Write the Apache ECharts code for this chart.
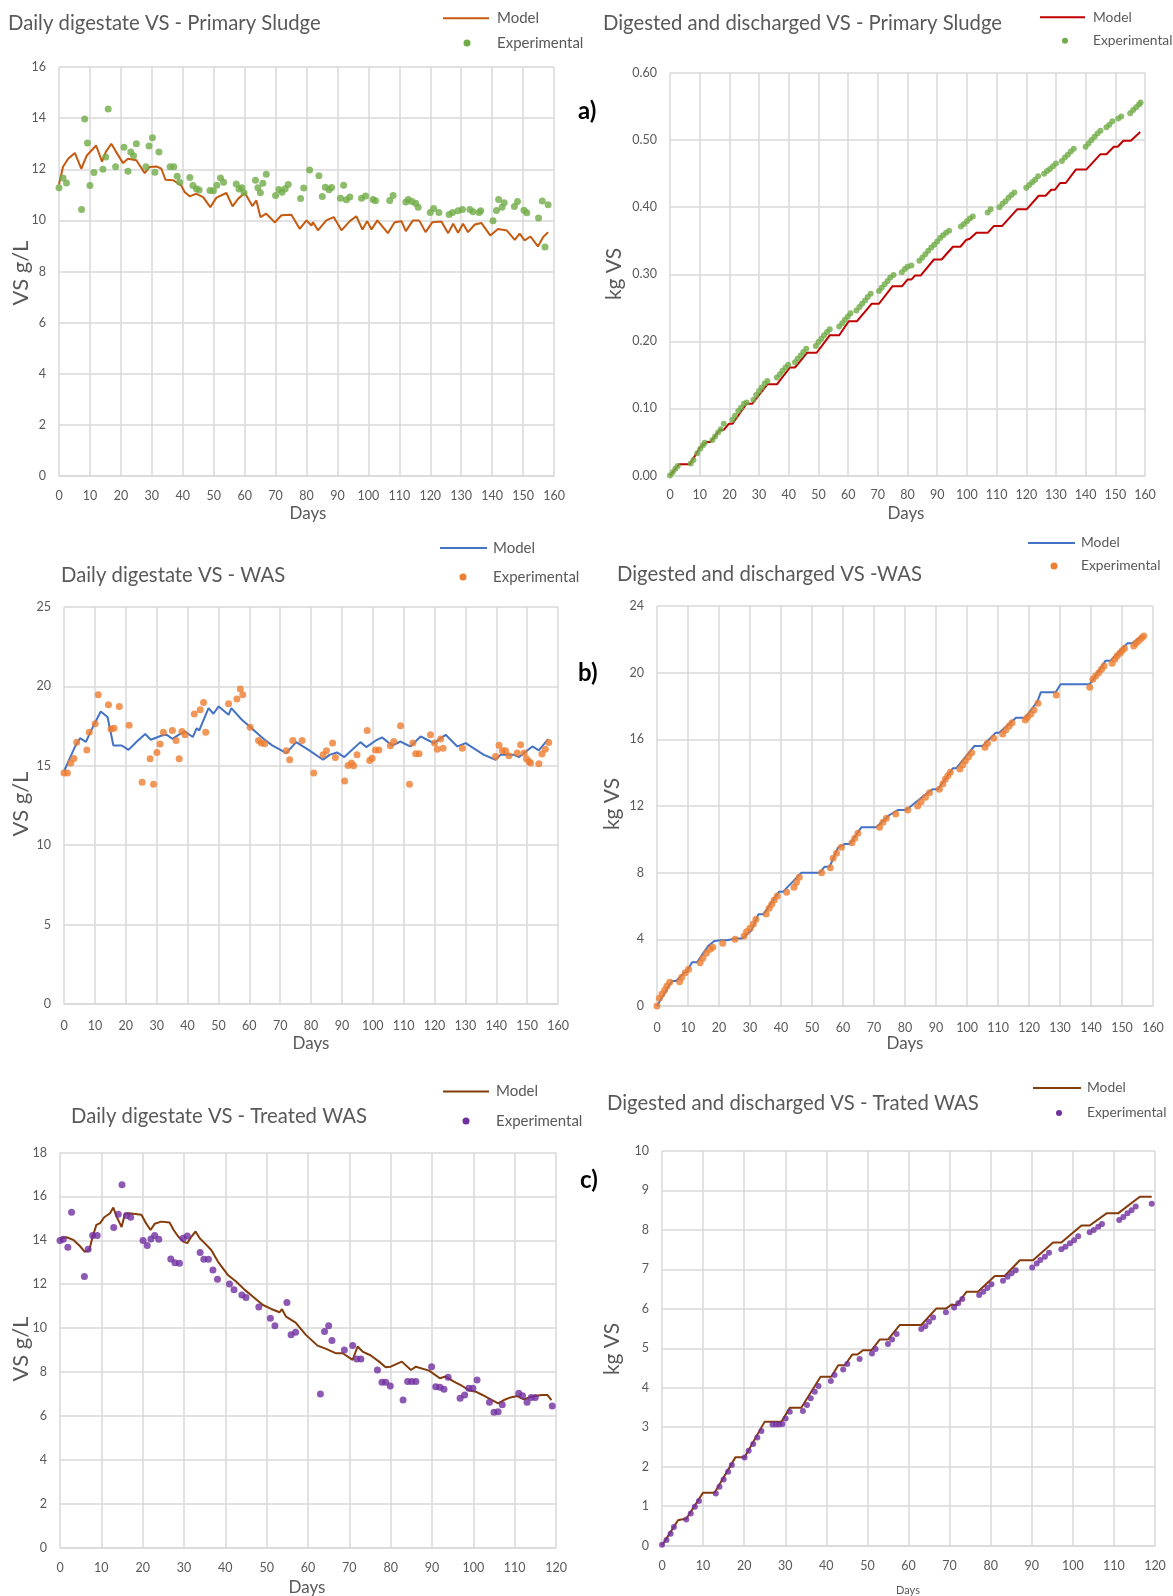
<!DOCTYPE html>
<html><head><meta charset="utf-8">
<script src="https://cdn.jsdelivr.net/npm/echarts/dist/echarts.min.js"></script>
<style>html,body{margin:0;padding:0;background:#fff}#c{width:1173px;height:1596px}</style>
</head><body><div id="c"></div><script>
// ---------- DATA ----------
// (a) Primary sludge, daily digestate VS (g/L)
const psDailyModel = [[0,11.4],[1.3,12.1],[2.9,12.4],[5.1,12.64],[7.2,12.02],[9,12.54],[12,12.93],[13.9,12.3],[15.1,12.67],[16.9,13.0],[18.3,12.71],[20.7,12.24],[22.3,12.41],[25,12.35],[27.7,11.85],[29.3,12.09],[31.5,12.11],[33.1,12.02],[34.4,11.59],[36.9,11.57],[39.5,11.37],[40.6,11.11],[42.2,10.94],[44.4,11.04],[46.6,10.91],[48.9,10.52],[50.9,10.89],[54.1,11.07],[56.1,10.55],[58,10.86],[60.1,11.07],[62.5,10.56],[63.8,10.78],[65.1,10.13],[67,10.26],[69.8,9.92],[71.9,10.2],[75.1,10.22],[77.8,9.67],[80,10.0],[81.6,9.8],[82.1,9.93],[83.7,9.61],[86.4,10.0],[88.8,10.13],[91.3,9.61],[94,9.97],[96.1,10.16],[98.1,9.64],[99.6,9.97],[101,9.64],[102.9,10.0],[106.3,9.5],[108.5,9.93],[110.7,9.97],[112.1,9.58],[114.4,10.0],[116.4,10.0],[118.5,9.54],[120.7,9.93],[123.6,9.96],[125.8,9.5],[127.4,9.87],[129,9.52],[130.6,9.87],[132.2,9.54],[134.4,9.84],[136.5,9.9],[139.4,9.41],[141.9,9.66],[144.8,9.6],[147.3,9.24],[148.9,9.48],[150.5,9.22],[152.4,9.37],[154.8,8.98],[156.5,9.35],[158.1,9.54]];
const psDailyExp = [[0,11.28],[1.3,11.66],[2.4,11.46],[7.3,10.43],[8.3,13.97],[9.2,13.03],[10,11.36],[11.3,11.87],[14.2,12.0],[15.1,12.48],[15.9,14.36],[18.3,12.1],[21,12.86],[22.3,11.92],[23.2,12.67],[24.1,12.53],[25,13.0],[28.1,12.1],[29.1,12.91],[30.2,13.23],[31,11.88],[32.3,12.67],[35.9,12.1],[37.1,12.1],[38.2,11.73],[39,11.49],[42.3,11.68],[43.3,11.36],[44.4,11.24],[45.3,11.19],[48.8,11.17],[49.9,11.16],[51,11.37],[52.2,11.66],[53.2,11.49],[57.3,11.42],[58.2,11.23],[59.1,11.28],[59.8,11.08],[63.5,11.57],[64.3,11.28],[65.1,11.08],[65.9,11.45],[67,11.8],[70,10.97],[71.1,11.21],[72.1,11.1],[73.1,11.24],[74.1,11.4],[78.1,10.86],[79.1,11.27],[81,11.97],[84,11.75],[85.1,10.93],[86.1,11.3],[87.3,11.2],[88.1,11.29],[91,10.87],[92,11.37],[92.9,10.81],[94,10.91],[97.8,10.87],[99.1,10.95],[101.5,10.82],[102.3,10.77],[106.9,10.78],[108,10.97],[112.1,10.72],[112.9,10.82],[114.1,10.74],[115.3,10.67],[116.1,10.51],[120,10.31],[121.1,10.46],[122.8,10.31],[126.1,10.23],[127.2,10.31],[129,10.38],[130.4,10.43],[132.8,10.43],[133.8,10.34],[135.8,10.31],[136.3,10.38],[140.3,9.99],[141.4,10.39],[142.1,10.82],[143.2,10.51],[143.9,10.69],[147.2,10.54],[148.2,10.74],[150.3,10.40],[151.2,10.30],[155,10.09],[156.2,10.76],[157.1,8.96],[158.1,10.61]];
// (a) Primary sludge, digested and discharged VS (kg)
const psCumModel = [[0,0],[3.1,0.0166],[6.6,0.0166],[10.2,0.042],[12.4,0.050],[13.6,0.050],[16.8,0.068],[18.1,0.068],[19.8,0.077],[21,0.077],[25.8,0.107],[27.7,0.107],[32.8,0.136],[36,0.136],[40.4,0.161],[42.1,0.161],[46.2,0.183],[49.4,0.183],[53.8,0.209],[57,0.209],[60.2,0.230],[63,0.230],[67.9,0.256],[70.4,0.256],[74.9,0.282],[78.1,0.282],[80,0.292],[81.3,0.292],[82.5,0.298],[84.4,0.298],[88.9,0.322],[91.5,0.322],[95.3,0.341],[97.8,0.341],[99.7,0.351],[101,0.353],[103.2,0.362],[107.1,0.362],[109.1,0.372],[111.9,0.372],[117,0.397],[120.2,0.397],[124.2,0.417],[126.5,0.417],[128.4,0.426],[129.7,0.426],[131.4,0.436],[133.3,0.436],[136.7,0.456],[140.2,0.456],[145,0.479],[147,0.479],[149.5,0.490],[150.8,0.490],[152.7,0.499],[155.2,0.499],[158.4,0.512]];
const psCumExp = [[0,0],[0.9,0.005],[1.8,0.010],[2.6,0.014],[7,0.018],[7.9,0.023],[9.2,0.033],[10.2,0.040],[11.1,0.045],[11.7,0.049],[14.3,0.053],[15.2,0.058],[16.2,0.064],[17.1,0.069],[18.1,0.077],[21,0.083],[21.9,0.089],[23,0.096],[23.9,0.101],[24.9,0.107],[25.8,0.109],[28.1,0.113],[29,0.120],[30,0.126],[30.9,0.131],[31.9,0.137],[32.8,0.141],[36,0.146],[37,0.151],[37.9,0.156],[38.9,0.161],[39.8,0.165],[42.1,0.169],[43,0.174],[44,0.179],[44.9,0.184],[45.9,0.189],[49.1,0.193],[50,0.199],[51,0.204],[51.9,0.209],[52.9,0.214],[53.8,0.218],[57,0.222],[58,0.227],[58.9,0.232],[59.9,0.237],[60.8,0.242],[62.8,0.246],[63.8,0.251],[64.7,0.256],[65.7,0.261],[66.6,0.266],[67.6,0.271],[70.4,0.275],[71.3,0.280],[72.3,0.285],[73.3,0.290],[74.2,0.295],[75.3,0.299],[78.1,0.303],[79.1,0.308],[80,0.311],[81.3,0.313],[84,0.320],[85,0.325],[86,0.330],[87,0.335],[88,0.340],[89,0.344],[90,0.349],[91,0.354],[92,0.358],[93,0.362],[94,0.365],[98,0.371],[99,0.375],[100,0.379],[101,0.383],[102,0.386],[107,0.392],[108,0.397],[111,0.400],[112,0.405],[113,0.409],[114,0.414],[115,0.418],[116,0.422],[120,0.429],[121,0.433],[122,0.437],[123,0.441],[124,0.446],[126,0.450],[127,0.454],[128,0.457],[129,0.461],[130,0.465],[132,0.469],[133,0.474],[134,0.478],[135,0.483],[136,0.487],[140,0.490],[141,0.495],[142,0.500],[143,0.505],[144,0.510],[145,0.514],[147,0.519],[148,0.523],[149,0.528],[151,0.532],[152,0.535],[155,0.540],[156,0.545],[157,0.549],[158,0.553],[158.5,0.556]];
// (b) WAS, daily digestate VS (g/L)
const wasDailyModel = [[0,14.64],[1.9,15.48],[3.6,16.22],[5.2,16.74],[7.1,16.51],[9,17.31],[11.9,18.42],[14.1,18.07],[16,16.28],[18.7,16.28],[20.9,16.0],[23.6,16.53],[26.3,17.0],[28.1,16.64],[31.7,16.91],[33.3,16.95],[35.1,16.7],[37.1,16.95],[39.2,17.16],[41.7,16.81],[43,17.37],[43.8,17.23],[46.8,18.63],[48.4,18.28],[50.1,18.74],[53.3,18.21],[54.2,18.63],[57.6,17.9],[60.3,17.44],[64.6,16.7],[67.3,16.3],[72,15.8],[75.2,16.49],[79.2,16.0],[83.9,15.38],[86,15.69],[88.4,15.84],[90.8,15.55],[96,16.49],[97.9,16.18],[100.9,16.58],[103,16.79],[106.3,16.28],[109,16.53],[110.3,16.39],[112.2,16.22],[115.5,16.85],[117.6,16.64],[119.8,16.43],[123.6,16.95],[127.4,16.22],[130.1,16.43],[136,15.69],[139.8,15.38],[141.4,15.69],[145.7,15.69],[147.4,15.55],[151.7,16.22],[153.8,15.97],[156.8,16.68]];
const wasDailyExp = [[0,14.54],[1.1,14.54],[2.2,15.17],[3.2,15.46],[4.1,16.49],[7.4,16.0],[8.2,17.12],[10.1,17.65],[11.1,19.47],[14.4,18.84],[15.2,17.31],[16.2,17.37],[17.9,18.74],[21.1,17.56],[25.3,13.97],[27.9,15.44],[29,13.84],[30.1,15.84],[31.1,16.37],[32.2,17.12],[35.1,17.23],[36.3,16.6],[37.3,15.44],[38.2,17.16],[39.2,16.95],[42.2,18.26],[44.1,18.53],[45.2,18.99],[45.9,17.12],[53.3,18.91],[56,19.2],[57.1,19.83],[57.9,19.47],[60.3,17.42],[63,16.6],[63.9,16.43],[65,16.39],[72,15.95],[73.1,15.38],[74.1,16.6],[77.1,16.6],[80.9,14.54],[83.9,15.69],[85,15.95],[87,16.43],[87.9,15.53],[90.9,14.05],[92,15.02],[93.1,15.17],[93.8,15.0],[94.9,15.69],[98.2,17.23],[99,15.34],[99.8,15.48],[100.9,16.0],[102,16.0],[105.7,16.26],[106.8,16.53],[109,17.52],[111.9,13.84],[113,16.43],[113.9,15.76],[115,15.76],[118.7,16.95],[120,16.43],[120.9,16.05],[122,16.68],[122.8,16.11],[129,16.11],[139.8,15.59],[140.9,16.3],[142,15.95],[143,15.95],[144.1,15.63],[146.8,15.8],[147.9,16.32],[149,15.8],[149.8,15.44],[150.6,15.27],[151.1,15.17],[153.8,15.13],[154.8,15.74],[155.9,16.05],[157,16.47]];
// (b) WAS, digested and discharged VS (kg)
const wasCumModel = [[0,0],[4.8,1.5],[6.2,1.5],[8.8,2.0],[9.6,2.05],[11.3,2.62],[12.9,2.62],[16.6,3.62],[18.5,3.9],[20.5,3.95],[22.5,3.95],[25.5,4.05],[27.5,4.05],[30.5,4.55],[32.7,5.5],[34.3,5.5],[39.4,6.86],[40.7,6.86],[46.6,8.0],[52.5,8.0],[54.1,8.36],[55.7,8.36],[58.4,9.5],[60.6,9.72],[62.2,9.72],[65.9,10.72],[70.7,10.72],[75,11.46],[77.7,11.76],[80.4,11.76],[85.7,12.56],[88.9,13.0],[90.6,13.0],[95.4,14.26],[96.5,14.26],[102.4,15.6],[105,15.6],[109.3,16.4],[110.4,16.4],[115.8,17.3],[118.8,17.3],[122.7,18.26],[123.8,18.82],[128.6,18.82],[130.2,19.3],[139.5,19.3],[140.9,19.66],[144.7,20.72],[146.3,20.72],[151.7,21.76],[153.3,21.76],[156.7,22.26]];
const wasCumExp = [[0,0],[0.75,0.46],[1.6,0.72],[2.5,0.96],[3.2,1.2],[4.1,1.42],[7.3,1.46],[8,1.72],[9.1,2.0],[10.2,2.2],[13.9,2.6],[14.8,2.86],[15.9,3.16],[17.1,3.4],[18,3.52],[21.2,3.76],[25.2,4.0],[28.1,4.2],[28.9,4.46],[30,4.66],[31.1,4.92],[31.9,5.2],[35.2,5.52],[36.2,5.86],[37,6.1],[37.8,6.36],[38.8,6.6],[41.8,6.82],[44.2,7.12],[45,7.42],[45.9,7.72],[53.1,8.0],[55.9,8.3],[56.8,8.86],[57.9,9.16],[59.5,9.52],[62.9,9.8],[63.8,10.06],[64.8,10.36],[71.8,10.72],[72.9,11.02],[74,11.26],[77,11.52],[80.9,11.76],[84.1,12.0],[85.2,12.26],[86.6,12.52],[87.9,12.8],[91.1,13.0],[92.2,13.32],[93,13.6],[93.8,13.82],[94.6,14.02],[97.7,14.22],[98.6,14.46],[99.5,14.72],[100.5,14.96],[101.5,15.2],[105.8,15.52],[106.6,15.76],[108.6,16.06],[111.5,16.32],[112.5,16.56],[113.6,16.8],[114.5,17.0],[118.8,17.16],[119.5,17.32],[120.6,17.52],[121.6,17.76],[122.9,18.16],[128.8,18.66],[139.6,19.12],[140.6,19.6],[141.5,19.8],[142.5,20.0],[143.4,20.2],[144.2,20.4],[146.8,20.56],[147.7,20.8],[148.4,21.0],[149.3,21.16],[150,21.32],[150.8,21.46],[153.8,21.6],[154.5,21.76],[155.4,21.92],[156.3,22.06],[157,22.2]];
// (c) Treated WAS, daily digestate VS (g/L)
const twasDailyModel = [[0,14.09],[1.6,14.14],[3.2,14.02],[4.8,13.74],[6,13.47],[7.1,13.56],[7.9,14.17],[8.8,14.7],[9.7,14.78],[10.7,15.05],[12.1,15.23],[12.9,15.49],[13.7,15.08],[14.9,14.6],[15.7,15.2],[16.7,15.23],[19.7,15.16],[20.8,14.78],[21.9,14.47],[22.9,14.75],[24.5,14.85],[26.5,14.81],[27.5,14.47],[28.6,14.17],[29.8,13.94],[30.8,13.87],[31.8,14.17],[32.8,14.4],[33.8,14.09],[35,13.87],[36.6,13.56],[38.2,13.03],[40.6,12.42],[42.6,12.12],[44.7,11.74],[46.7,11.43],[49.1,11.05],[51.1,10.87],[53.1,10.72],[53.7,10.86],[54.7,10.52],[57,10.25],[59.5,9.69],[62.3,9.2],[64.4,9.05],[66.8,8.85],[68.4,8.85],[70.8,8.55],[72,9.16],[73.2,8.93],[75.2,8.75],[77.2,8.47],[78.8,8.21],[80,8.24],[82.7,8.47],[84.9,8.09],[86.1,8.24],[89.3,8.06],[91.9,7.71],[93.3,7.79],[95.3,7.56],[97.3,7.36],[99.1,7.15],[100.6,7.1],[102.2,6.95],[104.2,6.75],[106,6.57],[107.4,6.72],[109,6.84],[110.6,6.9],[112.2,6.75],[114.2,6.88],[116.5,6.95],[117.9,6.95],[118.9,6.72]];
const twasDailyExp = [[0,13.99],[0.8,14.05],[1.9,13.68],[2.8,15.28],[5.9,12.35],[6.8,13.59],[7.9,14.22],[9,14.22],[13,14.58],[14.1,15.19],[15,16.53],[16.1,15.13],[17.1,15.05],[20.1,13.99],[21.1,13.76],[22,14.06],[22.9,14.22],[23.9,14.05],[26.8,13.15],[27.8,12.98],[28.9,12.95],[29.8,14.09],[30.8,14.2],[33.9,13.44],[34.8,13.14],[35.9,13.14],[37,12.65],[38.1,12.22],[41,12.01],[42.1,11.74],[44,11.51],[45,11.39],[48.1,10.96],[50.9,10.45],[52,10.1],[54.9,11.16],[55.9,9.69],[57,9.81],[63,7.0],[64,9.84],[65,10.11],[65.8,9.43],[68.8,9.0],[70.8,9.2],[71.8,8.59],[72.8,8.59],[76.8,8.09],[77.9,7.53],[78.8,7.53],[79.9,7.36],[83,6.72],[84.1,7.56],[85.1,7.56],[86.1,7.56],[89.9,8.24],[90.9,7.33],[91.9,7.3],[92.9,7.21],[93.9,7.76],[96.8,6.8],[97.9,6.95],[98.9,7.26],[99.9,7.26],[100.9,7.63],[103.9,6.62],[105,6.16],[106,6.19],[107,6.5],[111,7.03],[111.9,6.91],[113,6.62],[114,6.84],[115,6.84],[119.1,6.45]];
// (c) Treated WAS, digested and discharged VS (kg)
const twasCumModel = [[0,0],[1.1,0.18],[3.9,0.64],[4.7,0.66],[5.9,0.68],[10,1.34],[12.8,1.34],[17.9,2.24],[20.1,2.24],[25,3.14],[29.1,3.14],[31.1,3.49],[33.9,3.49],[38.6,4.28],[41.2,4.28],[42.9,4.57],[44.5,4.57],[46.3,4.84],[47.6,4.84],[48.9,4.95],[51,4.95],[53,5.22],[55,5.22],[57.9,5.59],[63.1,5.59],[66.8,6.01],[69.2,6.01],[70.5,6.11],[71.7,6.09],[74.1,6.43],[76.9,6.43],[81,6.83],[83.4,6.83],[87.1,7.23],[90.3,7.23],[95.2,7.68],[97.2,7.68],[102.1,8.11],[104.1,8.11],[108.2,8.42],[111,8.42],[116.3,8.84],[119.2,8.84]];
const twasCumExp = [[0,0.02],[1.1,0.14],[2.1,0.3],[2.9,0.47],[5.9,0.66],[7,0.81],[8,0.98],[9,1.13],[13.1,1.32],[14,1.49],[15,1.67],[16.1,1.87],[17,2.04],[20.1,2.23],[21.1,2.4],[22.2,2.57],[23.2,2.74],[24.2,2.9],[26.9,3.07],[27.7,3.07],[28.5,3.07],[29.3,3.08],[30.1,3.22],[31.1,3.39],[34.3,3.41],[35.3,3.56],[36.2,3.73],[37.2,3.9],[38.1,4.04],[41.1,4.17],[42,4.32],[44.1,4.46],[45.1,4.6],[48.1,4.73],[51.1,4.87],[52,4.98],[55,5.11],[56,5.22],[57.1,5.36],[63.1,5.49],[64.1,5.56],[65,5.67],[66,5.78],[69.1,5.91],[71.1,6.03],[72.1,6.14],[73.1,6.25],[77.2,6.35],[78.2,6.43],[79.2,6.53],[80.2,6.62],[83,6.71],[84.1,6.81],[85.1,6.9],[86.1,6.98],[90.1,7.05],[91.2,7.15],[92.1,7.24],[93.2,7.32],[94.2,7.42],[97.2,7.51],[98.2,7.57],[99.3,7.66],[100.3,7.74],[101.3,7.84],[104.1,7.94],[105.1,8.0],[106.2,8.08],[107.1,8.15],[111.3,8.25],[112.3,8.33],[113.3,8.42],[114.3,8.5],[115.3,8.59],[119.2,8.66]];

// ---------- LAYOUT / STYLE ----------
const FONT = 'Lato, "Open Sans", sans-serif';
const GREY = '#595959';
const GRIDC = '#d9d9d9';
const panels = [
  {grid:{left:59,top:67,width:495,height:409}, xmax:160, ymax:16, yint:2, dec:0, model:psDailyModel, exp:psDailyExp, mc:'#C55A11', ec:'#70AD47', es:7, lm:13},
  {grid:{left:670,top:73,width:475,height:402.5}, xmax:160, ymax:0.6, yint:0.1, dec:2, model:psCumModel, exp:psCumExp, mc:'#C00000', ec:'#70AD47', es:6, lm:13},
  {grid:{left:64,top:607,width:494,height:397}, xmax:160, ymax:25, yint:5, dec:0, model:wasDailyModel, exp:wasDailyExp, mc:'#4472C4', ec:'#ED7D31', es:7, lm:15},
  {grid:{left:657,top:606,width:496,height:400}, xmax:160, ymax:24, yint:4, dec:0, model:wasCumModel, exp:wasCumExp, mc:'#4472C4', ec:'#ED7D31', es:7, lm:15},
  {grid:{left:60,top:1152.5,width:496,height:395}, xmax:120, ymax:18, yint:2, dec:0, model:twasDailyModel, exp:twasDailyExp, mc:'#843C0C', ec:'#7030A0', es:7, lm:14},
  {grid:{left:662,top:1151,width:493,height:394.5}, xmax:120, ymax:10, yint:1, dec:0, model:twasCumModel, exp:twasCumExp, mc:'#843C0C', ec:'#7030A0', es:6, lm:14}
];

const grids=[], xAxes=[], yAxes=[], series=[];
panels.forEach((p,i)=>{
  grids.push(Object.assign({containLabel:false, show:false}, p.grid));
  xAxes.push({type:'value', gridIndex:i, min:0, max:p.xmax, interval:10,
    axisLine:{show:true, lineStyle:{color:GRIDC, width:1.5}}, axisTick:{show:false},
    splitLine:{show:true, lineStyle:{color:GRIDC, width:1.5}},
    axisLabel:{color:GREY, fontSize:12.5, fontFamily:FONT, margin:p.lm, showMaxLabel:true, showMinLabel:true}});
  yAxes.push({type:'value', gridIndex:i, min:0, max:p.ymax, interval:p.yint,
    axisLine:{show:false}, axisTick:{show:false},
    splitLine:{show:true, lineStyle:{color:GRIDC, width:1.5}},
    axisLabel:{color:GREY, fontSize:12.5, fontFamily:FONT, margin:13, formatter:v=>v.toFixed(p.dec)}});
  series.push({type:'line', name:'Model', xAxisIndex:i, yAxisIndex:i, data:p.model, showSymbol:false, symbol:'none',
    lineStyle:{color:p.mc, width:2}, z:2, animation:false});
  series.push({type:'scatter', name:'Experimental', xAxisIndex:i, yAxisIndex:i, data:p.exp, symbolSize:p.es,
    itemStyle:{color:p.ec}, z:3, animation:false});
});

function txt(x,y,text,o){
  o=o||{};
  return {type:'text', x:x, y:y, rotation:o.rot||0, silent:true, z:10,
    style:{text:text, fill:o.color||GREY, font:(o.weight||'normal')+' '+(o.size||15)+'px '+FONT,
      textAlign:o.align||'left', textVerticalAlign:'middle', align:o.align||'left', verticalAlign:'middle'}};
}
function legend(lx1,lx2,ly,tx,dx,dy,mc,ec,es,fs){
  return [
    {type:'line', silent:true, z:10, shape:{x1:lx1,y1:ly,x2:lx2,y2:ly}, style:{stroke:mc, lineWidth:2}},
    txt(tx,ly,'Model',{size:fs}),
    {type:'circle', silent:true, z:10, shape:{cx:dx,cy:dy,r:es/2}, style:{fill:ec}},
    txt(tx,dy,'Experimental',{size:fs})
  ];
}
const T = 20.3, R = Math.PI/2;
const graphics = [
  txt(8,23,'Daily digestate VS - Primary Sludge',{size:T}),
  txt(603,23,'Digested and discharged VS - Primary Sludge',{size:T}),
  txt(61,575,'Daily digestate VS - WAS',{size:T}),
  txt(617,574,'Digested and discharged VS -WAS',{size:T}),
  txt(71,1116,'Daily digestate VS - Treated WAS',{size:T}),
  txt(607,1103,'Digested and discharged VS - Trated WAS',{size:T}),
  ...legend(443,489,18.3,497,467,43,'#C55A11','#70AD47',7,15),
  ...legend(1040,1085,17.3,1093,1065,40.7,'#C00000','#70AD47',6,13.8),
  ...legend(440,487,548,493,463,577,'#4472C4','#ED7D31',7,15),
  ...legend(1028,1075,543,1081,1054,566,'#4472C4','#ED7D31',7,13.8),
  ...legend(443,489,1091.5,496,466,1121,'#843C0C','#7030A0',7,15),
  ...legend(1033,1081,1088,1087,1059,1113,'#843C0C','#7030A0',6,13.8),
  txt(578,111,'a)',{size:24,weight:'bold',color:'#000'}),
  txt(578,673,'b)',{size:24,weight:'bold',color:'#000'}),
  txt(580,1180,'c)',{size:24,weight:'bold',color:'#000'}),
  txt(21,273,'VS g/L',{size:22,rot:R,align:'center'}),
  txt(614,274,'kg VS',{size:21,rot:R,align:'center'}),
  txt(21,804,'VS g/L',{size:22,rot:R,align:'center'}),
  txt(612,804,'kg VS',{size:21,rot:R,align:'center'}),
  txt(21,1349,'VS g/L',{size:22,rot:R,align:'center'}),
  txt(612,1349,'kg VS',{size:21,rot:R,align:'center'}),
  txt(308,514,'Days',{size:17,align:'center'}),
  txt(906,514,'Days',{size:17,align:'center'}),
  txt(311,1044,'Days',{size:17,align:'center'}),
  txt(905,1044,'Days',{size:17,align:'center'}),
  txt(307,1588,'Days',{size:17,align:'center'}),
  txt(908,1590,'Days',{size:11,align:'center'})
];

const chart = echarts.init(document.getElementById('c'), null, {renderer:'canvas'});
chart.setOption({
  animation:false, backgroundColor:'#fff',
  grid:grids, xAxis:xAxes, yAxis:yAxes, series:series, graphic:graphics
});
</script></body></html>
